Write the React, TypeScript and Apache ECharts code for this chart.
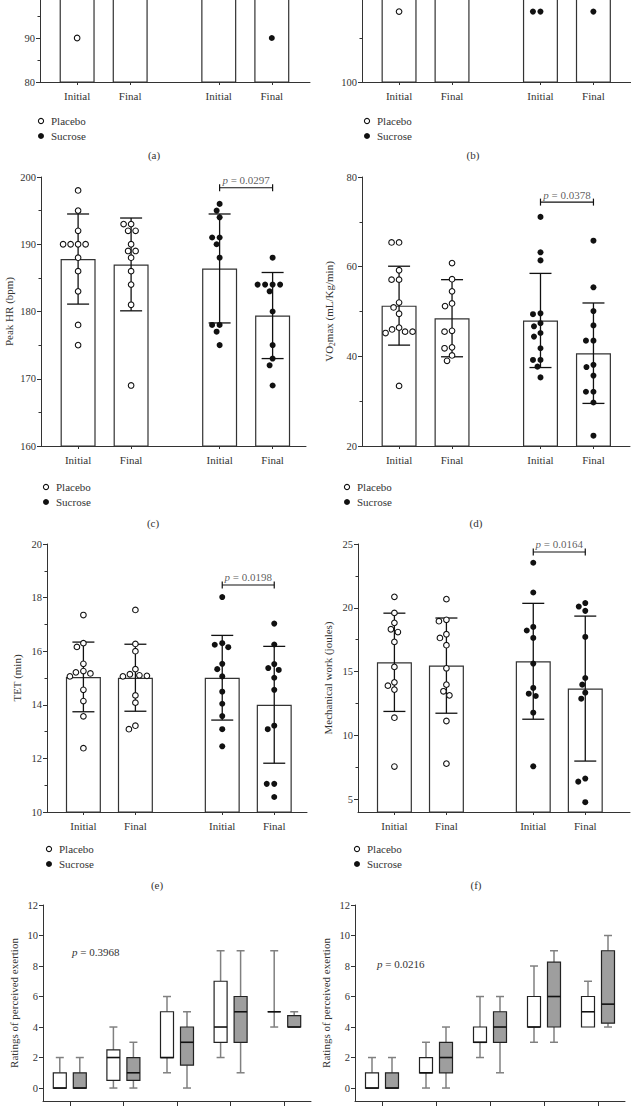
import React, { useEffect, useRef } from "react";
import * as echarts from "echarts";

const FONT = "'Liberation Serif', 'Times New Roman', serif";
const INK = "#333333";
const DOT = "#111111";

// ---------- shared category data ----------
const GROUP_LABELS = ["Initial", "Final", "Initial", "Final"];
const X_POS = [0.7, 1.7, 3.37, 4.37];
const LEGEND_NAMES = ["Placebo", "Sucrose"];

// ---------- (a) ----------
const A_MEANS = [100, 100, 100, 100];
const A_POINTS = [[90], [], [], [90]];
const A_TICKS = [80, 90];
// ---------- (b) ----------
const B_MEANS = [120, 120, 120, 120];
const B_POINTS = [[116], [], [116, 116], [116]];
const B_TICKS = [100];
// ---------- (c) Peak HR ----------
const C_MEANS = [187.8, 187.0, 186.4, 179.4];
const C_SD = [6.7, 6.9, 8.1, 6.4];
const C_POINTS = [
  [198, 195, 192, 190, 190, 190, 190, 188, 186, 183, 178, 175],
  [193, 193, 192, 192, 190, 189, 189, 188, 186, 184, 181, 169],
  [196, 195, 194, 191, 191, 190, 188, 178, 178, 177, 175],
  [188, 184, 184, 184, 184, 183, 180, 175, 173, 172, 169],
];
const C_P = "0.0297";
const C_BRACKET = 198.4;
// ---------- (d) VO2max ----------
const D_MEANS = [51.3, 48.5, 48.0, 40.7];
const D_SD = [8.8, 8.6, 10.5, 11.2];
const D_POINTS = [
  [65.4, 65.4, 59.2, 57.1, 57.1, 52.0, 50.9, 49.5, 46.4, 46.0, 45.5, 45.5, 45.2, 33.4],
  [60.8, 57.2, 54.5, 51.8, 51.2, 45.7, 45.5, 42.0, 41.8, 40.2, 39.0],
  [71.1, 63.2, 61.4, 49.6, 49.4, 47.4, 46.7, 45.2, 44.4, 41.8, 39.2, 39.2, 37.7, 35.3],
  [65.8, 55.4, 50.1, 46.9, 43.5, 43.5, 38.1, 37.6, 35.7, 32.1, 32.1, 29.7, 22.3],
];
const D_P = "0.0378";
const D_BRACKET = 74.4;
// ---------- (e) TET ----------
const E_MEANS = [15.04, 15.01, 15.01, 14.0];
const E_SD = [1.3, 1.25, 1.58, 2.18];
const E_POINTS = [
  [17.35, 16.3, 16.16, 15.53, 15.26, 15.21, 15.17, 15.06, 14.56, 14.14, 13.57, 12.38],
  [17.54, 16.27, 16.0, 15.33, 15.14, 15.1, 15.08, 15.06, 14.35, 14.08, 13.22, 13.09],
  [18.02, 16.3, 16.24, 16.15, 15.53, 15.33, 15.06, 14.49, 14.04, 13.58, 13.09, 12.45],
  [17.03, 16.25, 15.52, 15.37, 15.3, 15.01, 14.56, 13.22, 13.09, 11.05, 11.05, 10.56],
];
const E_P = "0.0198";
const E_BRACKET = 18.47;
// ---------- (f) Mechanical work ----------
const F_MEANS = [15.73, 15.47, 15.81, 13.67];
const F_SD = [3.85, 3.73, 4.54, 5.68];
const F_POINTS = [
  [20.86, 19.6, 18.82, 18.32, 18.1, 17.33, 15.37, 14.16, 13.9, 13.59, 11.39, 7.56],
  [20.68, 19.06, 18.95, 17.93, 17.64, 17.07, 15.26, 13.98, 13.46, 13.14, 11.13, 7.79],
  [23.53, 21.2, 18.5, 18.22, 17.64, 15.63, 13.72, 13.27, 13.09, 11.78, 7.58],
  [20.37, 20.1, 19.76, 17.72, 14.5, 13.98, 13.35, 12.88, 6.62, 6.38, 4.77],
];
const F_TICKS = [5, 10, 15, 20, 25];
const F_P = "0.0164";
const F_BRACKET = 24.37;
// ---------- (g), (h) RPE box plots: [min, q1, median, q3, max] ----------
const BOX_STAGES = ["1", "2", "3", "4", "5"];
const G_PLACEBO = [[0, 0, 0, 1, 2], [0, 0.5, 2, 2.5, 4], [1, 2, 2, 5, 6], [2, 3, 4, 7, 9], [4, 5, 5, 5, 9]];
const G_SUCROSE = [[0, 0, 0, 1, 2], [0, 0.5, 1, 2, 3], [0, 1.5, 3, 4, 5], [1, 3, 5, 6, 9], [4, 4, 4, 4.75, 5]];
const G_P = "0.3968";
const H_PLACEBO = [[0, 0, 0, 1, 2], [0, 1, 1, 2, 3], [2, 3, 3, 4, 6], [3, 4, 4, 6, 8], [4, 4, 5, 6, 7]];
const H_SUCROSE = [[0, 0, 0, 1, 2], [0, 1, 2, 3, 4], [1, 3, 4, 5, 6], [3, 4, 6, 8.25, 9], [4, 4.25, 5.5, 9, 10]];
const H_P = "0.0216";
const RPE_TICKS = [0, 2, 4, 6, 8, 10, 12];

// ---------- layout (pixels) ----------
const LAYOUT: Record<string, any> = {
  a: { left: 40, top: -6, width: 270, height: 88, xMax: 5.09 },
  b: { left: 362, top: -6, width: 269, height: 88, xMax: 5.08 },
  c: { left: 41, top: 177, width: 265, height: 269, xMax: 5.0 },
  d: { left: 362, top: 177, width: 268, height: 269, xMax: 5.06 },
  e: { left: 47, top: 544, width: 260, height: 268, xMax: 5.0 },
  f: { left: 358, top: 544, width: 272, height: 268, xMax: 5.23 },
  g: { left: 43, top: 905, width: 268, height: 196 },
  h: { left: 355, top: 905, width: 270, height: 196 },
};

const lineStyle = { color: INK, width: 1 };

function swarm(values: number[], pxY: number, pxX: number, D = 7.2): number[] {
  const order = values.map((_, i) => i).sort((a, b) => values[b] - values[a]);
  const placed: { x: number; y: number }[] = [];
  const out = new Array(values.length).fill(0);
  for (const i of order) {
    const y = values[i] * pxY;
    let chosen = 0;
    for (let k = 0; k < 400; k++) {
      const cand = k === 0 ? 0 : (k % 2 === 1 ? -1 : 1) * Math.ceil(k / 2) * 0.5;
      if (placed.every((p) => Math.hypot(p.x - cand, p.y - y) >= D)) {
        chosen = cand;
        break;
      }
    }
    placed.push({ x: chosen, y });
    out[i] = chosen / pxX;
  }
  return out;
}

function makeXAxis(gi: number, xMax: number) {
  return {
    type: "value",
    gridIndex: gi,
    min: 0,
    max: xMax,
    axisLine: { show: true, onZero: false, lineStyle },
    splitLine: { show: false },
    axisTick: { show: true, length: 3, lineStyle, customValues: X_POS },
    axisLabel: {
      show: true,
      customValues: X_POS,
      margin: 8,
      fontFamily: FONT,
      fontSize: 11,
      color: INK,
      formatter: (v: number) => {
        let best = 0;
        X_POS.forEach((p, i) => {
          if (Math.abs(p - v) < Math.abs(X_POS[best] - v)) best = i;
        });
        return GROUP_LABELS[best];
      },
    },
  };
}

function makeYAxis(gi: number, c: any) {
  const ax: any = {
    type: "value",
    gridIndex: gi,
    min: c.min,
    max: c.max,
    axisLine: { show: true, onZero: false, lineStyle },
    axisTick: { show: true, length: 4, lineStyle },
    minorTick: { show: !!c.minor, splitNumber: 2, length: 2.5, lineStyle },
    splitLine: { show: false },
    minorSplitLine: { show: false },
    axisLabel: { show: true, fontFamily: FONT, fontSize: 10.5, color: INK, margin: 5 },
    name: c.name || "",
    nameLocation: "middle",
    nameGap: c.nameGap || 26,
    nameMoveOverlap: false,
    nameTextStyle: {
      fontFamily: FONT,
      fontSize: 11,
      color: INK,
      rich: {
        n: { fontFamily: FONT, fontSize: 11, color: INK },
        s: { fontFamily: FONT, fontSize: 7.5, color: INK, padding: [6, 0, 0, 0] },
      },
    },
  };
  if (c.interval) ax.interval = c.interval;
  if (c.splitNumber) ax.splitNumber = c.splitNumber;
  if (c.labels) {
    ax.axisLabel.customValues = c.labels;
    ax.axisTick.customValues = c.labels;
  }
  return ax;
}

function barPanel(gi: number, L: any, means: number[], sds: number[] | null, points: number[][], y: any, p: string | null, bracket: number | null) {
  const pxX = L.width / L.xMax;
  const pxY = L.height / (y.max - y.min);
  const series: any[] = [];
  series.push({
    type: "bar",
    xAxisIndex: gi,
    yAxisIndex: gi,
    barWidth: 35,
    silent: true,
    z: 1,
    itemStyle: { color: "#ffffff", borderColor: INK, borderWidth: 1.2 },
    data: X_POS.map((x, i) => [x, means[i]]),
  });
  if (sds) {
    series.push({
      type: "custom",
      xAxisIndex: gi,
      yAxisIndex: gi,
      silent: true,
      z: 3,
      encode: { x: 0, y: 1 },
      data: X_POS.map((x, i) => [x, means[i], sds[i]]),
      renderItem: (_params: any, api: any) => {
        const x = api.value(0);
        const m = api.value(1);
        const s = api.value(2);
        const top = api.coord([x, m + s]);
        const bot = api.coord([x, m - s]);
        const hw = 11;
        const st = { stroke: DOT, lineWidth: 1.3, fill: "none" };
        return {
          type: "group",
          children: [
            { type: "line", shape: { x1: top[0], y1: top[1], x2: bot[0], y2: bot[1] }, style: st },
            { type: "line", shape: { x1: top[0] - hw, y1: top[1], x2: top[0] + hw, y2: top[1] }, style: st },
            { type: "line", shape: { x1: bot[0] - hw, y1: bot[1], x2: bot[0] + hw, y2: bot[1] }, style: st },
          ],
        };
      },
    });
  }
  [0, 1].forEach((grp) => {
    const data: number[][] = [];
    [grp * 2, grp * 2 + 1].forEach((ci) => {
      const vals = points[ci];
      const offs = swarm(vals, pxY, pxX);
      vals.forEach((v, k) => data.push([X_POS[ci] + offs[k], v]));
    });
    series.push({
      type: "scatter",
      name: LEGEND_NAMES[grp],
      xAxisIndex: gi,
      yAxisIndex: gi,
      silent: true,
      z: 6,
      symbol: "circle",
      symbolSize: grp === 0 ? 5.6 : 6,
      itemStyle:
        grp === 0
          ? { color: "#ffffff", borderColor: DOT, borderWidth: 1.1, opacity: 1 }
          : { color: DOT, borderWidth: 0, opacity: 1 },
      data,
    });
  });
  if (p && bracket != null) {
    series.push({
      type: "line",
      xAxisIndex: gi,
      yAxisIndex: gi,
      silent: true,
      z: 7,
      symbol: "rect",
      symbolSize: [1.2, 7],
      showSymbol: true,
      lineStyle: { color: DOT, width: 1.1 },
      itemStyle: { color: DOT },
      data: [
        [X_POS[2], bracket],
        [X_POS[3], bracket],
      ],
    });
    series.push({
      type: "scatter",
      xAxisIndex: gi,
      yAxisIndex: gi,
      silent: true,
      z: 7,
      symbolSize: 0.1,
      itemStyle: { color: "rgba(0,0,0,0)" },
      label: {
        show: true,
        position: "top",
        distance: 2,
        formatter: "{i|p} = " + p,
        fontFamily: FONT,
        fontSize: 11,
        color: INK,
        rich: { i: { fontStyle: "italic", fontFamily: FONT, fontSize: 11, color: INK } },
      },
      data: [[(X_POS[2] + X_POS[3]) / 2, bracket]],
    });
  }
  return {
    grid: { left: L.left, top: L.top, width: L.width, height: L.height, containLabel: false, outerBoundsMode: "none" },
    xAxis: makeXAxis(gi, L.xMax),
    yAxis: makeYAxis(gi, y),
    series,
  };
}

function boxSeries(gi: number, boxes: number[][], offset: number, fill: string) {
  return {
    type: "custom",
    xAxisIndex: gi,
    yAxisIndex: gi,
    silent: true,
    z: 3,
    encode: { x: 0, y: [1, 2, 3, 4, 5] },
    data: boxes.map((b, i) => [i, ...b]),
    renderItem: (_params: any, api: any) => {
      const i = api.value(0);
      const mn = api.value(1);
      const q1 = api.value(2);
      const md = api.value(3);
      const q3 = api.value(4);
      const mx = api.value(5);
      const xc = api.coord([i, md])[0] + offset;
      const Y = (v: number) => api.coord([i, v])[1];
      const hw = 6.5;
      const cw = 4;
      const ws = { stroke: "#808080", lineWidth: 1.5, fill: "none" };
      const children: any[] = [];
      if (mx > q3) {
        children.push({ type: "line", shape: { x1: xc, y1: Y(q3), x2: xc, y2: Y(mx) }, style: ws });
        children.push({ type: "line", shape: { x1: xc - cw, y1: Y(mx), x2: xc + cw, y2: Y(mx) }, style: ws });
      }
      if (mn < q1) {
        children.push({ type: "line", shape: { x1: xc, y1: Y(q1), x2: xc, y2: Y(mn) }, style: ws });
        children.push({ type: "line", shape: { x1: xc - cw, y1: Y(mn), x2: xc + cw, y2: Y(mn) }, style: ws });
      }
      children.push({
        type: "rect",
        shape: { x: xc - hw, y: Y(q3), width: hw * 2, height: Y(q1) - Y(q3) },
        style: { fill, stroke: "#222222", lineWidth: 1.2 },
      });
      children.push({
        type: "line",
        shape: { x1: xc - hw, y1: Y(md), x2: xc + hw, y2: Y(md) },
        style: { stroke: "#111111", lineWidth: 1.6 },
      });
      return { type: "group", children };
    },
  };
}

function boxPanel(gi: number, L: any, placebo: number[][], sucrose: number[][], name: string, nameGap: number) {
  return {
    grid: { left: L.left, top: L.top, width: L.width, height: L.height, containLabel: false, outerBoundsMode: "none" },
    xAxis: {
      type: "category",
      gridIndex: gi,
      data: BOX_STAGES,
      boundaryGap: true,
      axisLine: { show: true, onZero: false, lineStyle },
      axisTick: { show: true, alignWithLabel: true, length: 7, lineStyle },
      axisLabel: { show: false },
      splitLine: { show: false },
    },
    yAxis: makeYAxis(gi, { min: -0.85, max: 12, splitNumber: 6, labels: RPE_TICKS, name, nameGap }),
    series: [boxSeries(gi, placebo, -10, "#ffffff"), boxSeries(gi, sucrose, 10, "#9e9e9e")],
  };
}

function txt(x: number, y: number, text: string, align = "left", rich?: any) {
  const style: any = { x: 0, y: 0, text, fill: INK, fontFamily: FONT, fontSize: 11, align, verticalAlign: "middle" };
  if (rich) style.rich = rich;
  return { type: "text", x, y, style, silent: true };
}

function legend(x: number, y: number) {
  return [
    { type: "circle", shape: { cx: x, cy: y, r: 2.6 }, style: { fill: "#fff", stroke: DOT, lineWidth: 1.1 }, silent: true },
    txt(x + 10, y, LEGEND_NAMES[0]),
    { type: "circle", shape: { cx: x, cy: y + 15, r: 3 }, style: { fill: DOT }, silent: true },
    txt(x + 10, y + 15, LEGEND_NAMES[1]),
  ];
}

function buildOption() {
  const panels = [
    barPanel(0, LAYOUT.a, A_MEANS, null, A_POINTS, { min: 80, max: 100, interval: 10, minor: true, labels: A_TICKS }, null, null),
    barPanel(1, LAYOUT.b, B_MEANS, null, B_POINTS, { min: 100, max: 120, interval: 20, minor: true, labels: B_TICKS }, null, null),
    barPanel(2, LAYOUT.c, C_MEANS, C_SD, C_POINTS, { min: 160, max: 200, interval: 10, minor: true, name: "Peak HR (bpm)", nameGap: 27 }, C_P, C_BRACKET),
    barPanel(3, LAYOUT.d, D_MEANS, D_SD, D_POINTS, { min: 20, max: 80, interval: 20, minor: true, name: "{n|VO}{s|2}{n|max (mL/Kg/min)}", nameGap: 26 }, D_P, D_BRACKET),
    barPanel(4, LAYOUT.e, E_MEANS, E_SD, E_POINTS, { min: 10, max: 20, interval: 2, minor: true, name: "TET (min)", nameGap: 25 }, E_P, E_BRACKET),
    barPanel(5, LAYOUT.f, F_MEANS, F_SD, F_POINTS, { min: 4, max: 25, splitNumber: 5, labels: F_TICKS, minor: true, name: "Mechanical work (joules)", nameGap: 25 }, F_P, F_BRACKET),
    boxPanel(6, LAYOUT.g, G_PLACEBO, G_SUCROSE, "Ratings of perceived exertion", 24),
    boxPanel(7, LAYOUT.h, H_PLACEBO, H_SUCROSE, "Ratings of perceived exertion", 24),
  ];
  const italic = { i: { fontStyle: "italic", fontFamily: FONT, fontSize: 11, fill: INK } };
  const graphic = [
    ...legend(41, 121),
    ...legend(367, 121),
    ...legend(46, 487),
    ...legend(347, 487),
    ...legend(49, 849),
    ...legend(357, 849),
    txt(154, 155, "(a)", "center"),
    txt(473, 155, "(b)", "center"),
    txt(153, 523, "(c)", "center"),
    txt(476, 523, "(d)", "center"),
    txt(157, 885, "(e)", "center"),
    txt(476, 885, "(f)", "center"),
    txt(72, 952, "{i|p} = " + G_P, "left", italic),
    txt(377, 964, "{i|p} = " + H_P, "left", italic),
  ];
  return {
    animation: false,
    backgroundColor: "#ffffff",
    textStyle: { fontFamily: FONT },
    grid: panels.map((p) => p.grid),
    xAxis: panels.map((p) => p.xAxis),
    yAxis: panels.map((p) => p.yAxis),
    series: panels.flatMap((p) => p.series),
    graphic,
  };
}

export default function App() {
  const ref = useRef<HTMLDivElement>(null);
  useEffect(() => {
    if (!ref.current) return;
    const chart = echarts.init(ref.current, null, { renderer: "svg" });
    chart.setOption(buildOption() as any);
    return () => chart.dispose();
  }, []);
  return (
    <div
      ref={ref}
      style={{ position: "absolute", left: 0, top: 0, width: 631, height: 1106, background: "#ffffff" }}
    />
  );
}
